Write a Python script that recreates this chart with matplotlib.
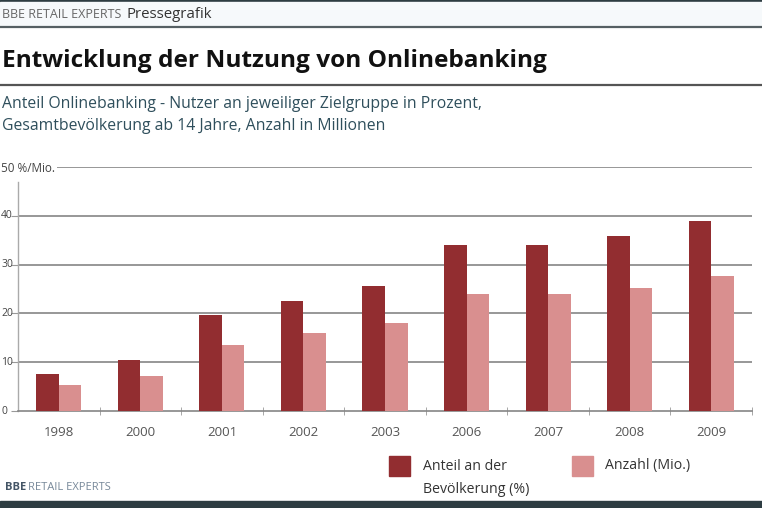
import matplotlib
matplotlib.use("Agg")
import matplotlib.pyplot as plt
import matplotlib.transforms as mtransforms
import numpy as np
from matplotlib.patches import Rectangle
from matplotlib.lines import Line2D

years = ["1998", "2000", "2001", "2002", "2003", "2006", "2007", "2008", "2009"]
anteil = [7.6, 10.4, 19.7, 22.5, 25.6, 34.0, 34.0, 35.9, 38.9]
anzahl = [5.3, 7.2, 13.5, 16.0, 18.0, 24.0, 24.0, 25.2, 27.7]
yticks = [0, 10, 20, 30, 40]
ytick_labels = ["0", "10", "20", "30", "40"]
ytop_label = "50 %/Mio."
legend_labels = ["Anteil an der\nBevölkerung (%)", "Anzahl (Mio.)"]

DARK = "#922d30"
LIGHT = "#d98f8f"
GRID = "#858585"
TEAL = "#2f4f5c"
FONT = "Open Sans"

W, H = 762, 508
fig = plt.figure(figsize=(W / 100, H / 100), dpi=100)
fig.patch.set_facecolor("white")

def fx(x):
    return x / W

def fy(y):
    return 1 - y / H

# frame elements
fig.patches.append(Rectangle((0, fy(2)), 1, 2 / H, transform=fig.transFigure, color="#2e3d42", zorder=0))
fig.patches.append(Rectangle((0, fy(26)), 1, 24 / H, transform=fig.transFigure, color="#f6f9fb", zorder=0))
fig.lines.append(Line2D([0, 1], [fy(27), fy(27)], transform=fig.transFigure, color="#555f63", lw=1.6))
fig.lines.append(Line2D([0, 1], [fy(85), fy(85)], transform=fig.transFigure, color="#555555", lw=1.6))
fig.patches.append(Rectangle((0, 0), 1, 7 / H, transform=fig.transFigure, color="#2e3d42", zorder=0))

# header texts
fig.text(fx(2), fy(14), "BBE RETAIL EXPERTS", ha="left", va="center", fontsize=9,
         family=FONT, color="#666666")
fig.text(fx(127), fy(14), "Pressegrafik", ha="left", va="center", fontsize=10.8,
         family=FONT, color="#333333")
fig.text(fx(2), fy(61), "Entwicklung der Nutzung von Onlinebanking", ha="left", va="center",
         fontsize=17.6, family=FONT, weight="bold", color="#111111")
fig.text(fx(2), fy(104), "Anteil Onlinebanking - Nutzer an jeweiliger Zielgruppe in Prozent,",
         ha="left", va="center", fontsize=11.3, family=FONT, color=TEAL)
fig.text(fx(2), fy(126), "Gesamtbevölkerung ab 14 Jahre, Anzahl in Millionen",
         ha="left", va="center", fontsize=11.3, family=FONT, color=TEAL)

# axes
ax = fig.add_axes([fx(18), fy(411), (752 - 18) / W, (411 - 167) / H])
ax.set_facecolor("none")
x = np.arange(len(years))
bw = 0.276
ax.bar(x - bw / 2, anteil, width=bw, color=DARK, zorder=3)
ax.bar(x + bw / 2, anzahl, width=bw, color=LIGHT, zorder=3)
ax.set_xlim(-0.5, len(years) - 0.5)
ax.set_ylim(0, 50)
for v in [10, 20, 30, 40]:
    ax.axhline(v, color=GRID, lw=1.2, zorder=1)
ax.plot([0.0, 1.0], [50, 50], transform=ax.get_yaxis_transform(), color=GRID, lw=1.2, zorder=1)

for s in ["top", "right"]:
    ax.spines[s].set_visible(False)
ax.spines["bottom"].set_color(GRID)
ax.spines["bottom"].set_linewidth(1.2)
ax.spines["left"].set_color("#aaaaaa")
ax.spines["left"].set_linewidth(1.0)
ax.spines["left"].set_bounds(0, 47)

ax.set_yticks(yticks)
ax.set_yticklabels([])
ax.tick_params(axis="y", length=5, color="#999999")
trans = mtransforms.blended_transform_factory(fig.transFigure, ax.transData)
for v, lab in zip(yticks, ytick_labels):
    ax.text(fx(1), v, lab, transform=trans, ha="left", va="center", fontsize=7.5,
            family=FONT, color="#444444", clip_on=False)

ax.set_xticks(x)
ax.set_xticklabels(years, family=FONT, fontsize=9.5, color="#555555")
ax.tick_params(axis="x", length=0, pad=11)
ax.set_xticks(np.arange(0.5, len(years), 1), minor=True)
ax.tick_params(axis="x", which="minor", length=6, color="#999999", direction="inout")

fig.text(fx(1), fy(168), ytop_label, ha="left", va="center", fontsize=8.5,
         family=FONT, color="#444444",
         bbox=dict(facecolor="white", edgecolor="none", pad=1.5), zorder=5)

# legend
fig.patches.append(Rectangle((fx(389), fy(476)), 21 / W, 20 / H, transform=fig.transFigure,
                             color=DARK))
fig.patches.append(Rectangle((fx(572), fy(476)), 21 / W, 20 / H, transform=fig.transFigure,
                             color=LIGHT))
fig.text(fx(423), fy(478), legend_labels[0], ha="left", va="center", fontsize=10.2,
         family=FONT, color="#333333", linespacing=1.75)
fig.text(fx(605), fy(466), legend_labels[1], ha="left", va="center", fontsize=10.2,
         family=FONT, color="#333333")

# footer
fig.text(fx(5), fy(488), "BBE", ha="left", va="center", fontsize=8, family=FONT,
         weight="bold", color="#445566")
fig.text(fx(28), fy(488), "RETAIL EXPERTS", ha="left", va="center", fontsize=8, family=FONT,
         color="#778899")

fig.savefig("out.png", dpi=100)
